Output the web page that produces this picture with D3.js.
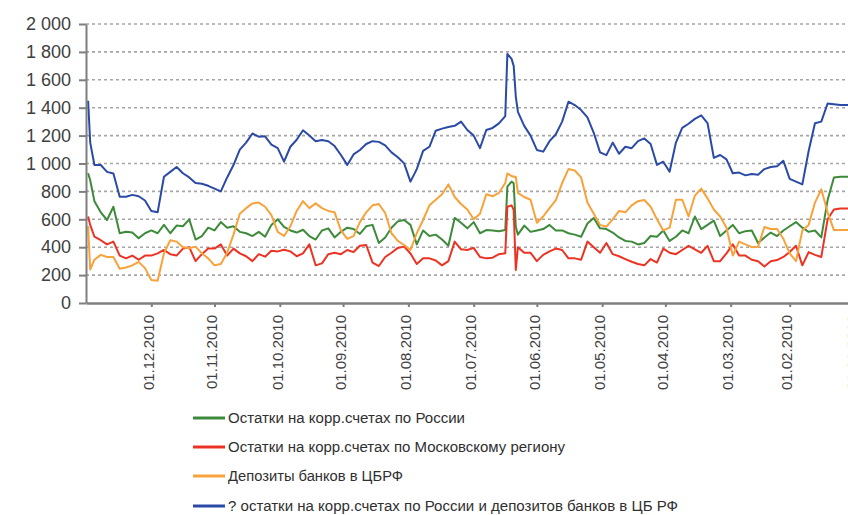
<!DOCTYPE html>
<html>
<head>
<meta charset="utf-8">
<script src="https://cdn.jsdelivr.net/npm/d3@7"></script>
<style>
  body { margin: 0; background: #fff; }
  svg { display: block; }
</style>
</head>
<body>
<script>
//Width and height
var w = 848;
var h = 515;

// dates of the samples (right to left on the chart: dec 2010 -> jan 2010)
var dates = [
	"31.12.2010", "30.12.2010", "28.12.2010", "25.12.2010", "22.12.2010", "19.12.2010", "16.12.2010", "13.12.2010", "10.12.2010", "07.12.2010", "04.12.2010", "01.12.2010",
	"28.11.2010", "25.11.2010", "22.11.2010", "19.11.2010", "16.11.2010", "13.11.2010", "10.11.2010", "07.11.2010", "04.11.2010", "01.11.2010",
	"29.10.2010", "26.10.2010", "23.10.2010", "20.10.2010", "17.10.2010", "14.10.2010", "11.10.2010", "08.10.2010", "05.10.2010", "02.10.2010",
	"29.09.2010", "26.09.2010", "23.09.2010", "20.09.2010", "17.09.2010", "14.09.2010", "11.09.2010", "08.09.2010", "05.09.2010", "02.09.2010",
	"30.08.2010", "27.08.2010", "24.08.2010", "21.08.2010", "18.08.2010", "15.08.2010", "12.08.2010", "09.08.2010", "06.08.2010", "03.08.2010",
	"31.07.2010", "28.07.2010", "25.07.2010", "22.07.2010", "19.07.2010", "16.07.2010", "13.07.2010", "10.07.2010", "07.07.2010", "04.07.2010", "01.07.2010",
	"28.06.2010", "25.06.2010", "22.06.2010", "19.06.2010", "16.06.2010", "15.06.2010", "13.06.2010", "12.06.2010", "11.06.2010", "10.06.2010", "07.06.2010", "04.06.2010", "01.06.2010",
	"29.05.2010", "26.05.2010", "23.05.2010", "20.05.2010", "17.05.2010", "14.05.2010", "11.05.2010", "08.05.2010", "05.05.2010", "02.05.2010",
	"29.04.2010", "26.04.2010", "23.04.2010", "20.04.2010", "17.04.2010", "14.04.2010", "11.04.2010", "08.04.2010", "05.04.2010", "02.04.2010",
	"30.03.2010", "27.03.2010", "24.03.2010", "21.03.2010", "18.03.2010", "15.03.2010", "12.03.2010", "09.03.2010", "06.03.2010", "03.03.2010",
	"28.02.2010", "25.02.2010", "22.02.2010", "19.02.2010", "16.02.2010", "13.02.2010", "10.02.2010", "07.02.2010", "04.02.2010", "01.02.2010",
	"29.01.2010", "26.01.2010", "23.01.2010", "20.01.2010", "17.01.2010", "14.01.2010", "11.01.2010", "08.01.2010", "05.01.2010", "02.01.2010"
];

// Остатки на корр.счетах по России
var russia = [
	930, 880, 730, 650, 595, 690, 500, 511, 505, 465, 500, 520,
	500, 560, 500, 555, 550, 600, 455, 480, 540, 520,
	580, 540, 550, 510, 500, 480, 510, 475, 560, 600,
	545, 520, 505, 525, 480, 455, 520, 535, 470, 510,
	540, 530, 495, 550, 560, 430, 470, 540, 585, 595,
	560, 420, 520, 480, 490, 455, 410, 610, 575, 535, 580,
	500, 523, 520, 515, 523, 834, 870, 858, 547, 490, 555, 510, 520,
	530, 560, 520, 520, 500, 490, 475, 570, 610, 535,
	530, 505, 470, 445, 440, 420, 430, 480, 475, 520,
	445, 475, 520, 500, 620, 530, 560, 590, 480, 520,
	560, 500, 515, 520, 430, 470, 505, 480, 520, 550,
	580, 540, 510, 520, 470, 738, 900, 905, 905, 905
];

// Остатки на корр.счетах по Московскому региону
var moscow = [
	620, 560, 475, 450, 420, 440, 340, 320, 340, 310, 340, 340,
	356, 380, 350, 340, 390, 400, 300, 350, 390, 390,
	420, 340, 390, 356, 335, 300, 350, 332, 375, 370,
	382, 370, 335, 356, 420, 270, 284, 350, 360, 350,
	380, 365, 410, 416, 290, 265, 330, 360, 395, 404,
	355, 280, 320, 320, 305, 270, 300, 440, 385, 380, 395,
	330, 320, 325, 350, 356, 690, 700, 667, 237, 400, 360, 360, 300,
	345, 370, 390, 380, 320, 320, 310, 440, 400, 360,
	430, 350, 335, 315, 296, 280, 270, 315, 290, 390,
	360, 350, 380, 410, 385, 360, 410, 300, 300, 356,
	420, 340, 340, 310, 300, 262, 300, 308, 330, 365,
	410, 270, 365, 345, 330, 600, 670, 678, 678, 678
];

// Депозиты банков в ЦБРФ
var deposits = [
	550, 240, 310, 345, 330, 330, 245, 255, 270, 295, 250, 165,
	160, 356, 450, 440, 400, 392, 404, 356, 320, 270,
	280, 360, 490, 640, 680, 714, 720, 690, 630, 510,
	480, 550, 660, 730, 680, 714, 680, 660, 650, 520,
	460, 480, 580, 650, 700, 710, 645, 500, 445, 416,
	380, 500, 595, 700, 740, 780, 850, 760, 710, 670, 600,
	640, 780, 765, 790, 860, 929, 910, 905, 905, 790, 760, 740, 575,
	620, 680, 738, 860, 960, 950, 900, 720, 640, 560,
	547, 600, 660, 650, 700, 730, 738, 690, 600, 520,
	540, 740, 740, 620, 770, 820, 750, 670, 620, 540,
	340, 440, 420, 400, 404, 545, 530, 530, 460, 356,
	300, 520, 560, 720, 815, 650, 523, 523, 523, 523
];

// ? остатки на корр.счетах по России и депозитов банков в ЦБ РФ
var total = [
	1450, 1150, 989, 989, 940, 929, 762, 762, 775, 765, 735, 660,
	650, 905, 940, 975, 930, 900, 860, 855, 840, 820,
	800, 900, 989, 1100, 1150, 1215, 1192, 1195, 1135, 1110,
	1013, 1120, 1170, 1238, 1200, 1160, 1168, 1160, 1125, 1061,
	990, 1065, 1097, 1140, 1160, 1155, 1130, 1080, 1045, 1001,
	870, 960, 1090, 1120, 1235, 1250, 1262, 1270, 1300, 1240, 1200,
	1110, 1240, 1255, 1288, 1340, 1785, 1750, 1700, 1480, 1370, 1270, 1200, 1097,
	1085, 1160, 1210, 1300, 1443, 1419, 1383, 1330, 1220, 1080,
	1060, 1150, 1070, 1120, 1110, 1160, 1180, 1140, 990, 1013,
	941, 1150, 1255, 1285, 1320, 1345, 1290, 1040, 1061, 1030,
	930, 935, 915, 925, 920, 960, 975, 980, 1020, 890,
	870, 850, 1090, 1288, 1300, 1430, 1425, 1419, 1419, 1419
];

var seriesNames = [
	"Остатки на корр.счетах по России",
	"Остатки на корр.счетах по Московскому региону",
	"Депозиты банков  в ЦБРФ",
	"? остатки на корр.счетах по России и депозитов банков  в ЦБ РФ"
];
var seriesColors = ["#3d8b3a", "#ec3323", "#f8a23c", "#2b4aa6"];

var xTickLabels = ["01.12.2010", "01.11.2010", "01.10.2010", "01.09.2010", "01.08.2010", "01.07.2010",
	"01.06.2010", "01.05.2010", "01.04.2010", "01.03.2010", "01.02.2010", "01.01.2010"];
var yTicks = [0, 200, 400, 600, 800, 1000, 1200, 1400, 1600, 1800, 2000];

var parseDate = d3.timeParse("%d.%m.%Y");
var fmtDate = d3.timeFormat("%d.%m.%Y");
var ru = d3.formatLocale({decimal: ",", thousands: " ", grouping: [3], currency: ["", ""]});

//Create SVG element
var svg = d3.select("body")
		.append("svg")
		.attr("width", w)
		.attr("height", h);

// time runs right to left
var x = d3.scaleTime()
		.domain([parseDate("01.01.2011"), parseDate("01.01.2010")])
		.range([86, 855]);

var y = d3.scaleLinear()
		.domain([0, 2000])
		.range([303, 24]);

// dotted grid
svg.append("g")
		.selectAll("line")
		.data(yTicks.filter(function(d) { return d > 0; }))
		.enter()
		.append("line")
		.attr("x1", 86)
		.attr("x2", w)
		.attr("y1", function(d) { return y(d); })
		.attr("y2", function(d) { return y(d); })
		.attr("stroke", "#a6a6a6")
		.attr("stroke-width", 1.6)
		.attr("stroke-dasharray", "3,3");

var chart = function() {
	var series = [russia, moscow, deposits, total];
	var line = d3.line()
			.x(function(d) { return x(d.date); })
			.y(function(d) { return y(d.value); });

	series.forEach(function(vals, i) {
		var pts = dates.map(function(s, j) {
			return {date: parseDate(s), value: vals[j]};
		}).filter(function(d) { return d.value != null; });

		svg.append("path")
				.datum(pts)
				.attr("d", line)
				.attr("fill", "none")
				.attr("stroke", seriesColors[i])
				.attr("stroke-width", 2)
				.attr("stroke-linejoin", "round");
	});
	return "Chart was created";
};

chart();

// y axis
var yAxis = svg.append("g")
		.attr("transform", "translate(86,0)")
		.call(d3.axisLeft(y)
				.tickValues(yTicks)
				.tickFormat(function(d) { return ru.format(",")(d); })
				.tickSize(7)
				.tickSizeOuter(0)
				.tickPadding(8));

yAxis.select(".domain").attr("stroke", "#7f7f7f").attr("stroke-width", 2);
yAxis.selectAll(".tick line").attr("stroke", "#7f7f7f").attr("stroke-width", 2);
yAxis.selectAll(".tick text")
		.attr("font-family", "Liberation Sans, Arial, sans-serif")
		.attr("font-size", "18px")
		.attr("fill", "#404040");

// x axis
var xAxis = svg.append("g")
		.attr("transform", "translate(0,303)")
		.call(d3.axisBottom(x)
				.tickValues(xTickLabels.map(parseDate))
				.tickFormat(fmtDate)
				.tickSize(4)
				.tickSizeOuter(0));

xAxis.select(".domain").attr("stroke", "#7f7f7f").attr("stroke-width", 2.5);
xAxis.selectAll(".tick line").attr("stroke", "#7f7f7f").attr("stroke-width", 2);
xAxis.selectAll(".tick text")
		.attr("font-family", "Liberation Sans, Arial, sans-serif")
		.attr("font-size", "15px")
		.attr("fill", "#404040")
		.attr("text-anchor", "end")
		.attr("transform", "rotate(-90)")
		.attr("x", -12)
		.attr("y", -3)
		.attr("dy", "0.35em");

// legend
var legendWidths = [237, 337, 175, 450];
var legend = svg.append("g")
		.selectAll("g")
		.data(seriesNames)
		.enter()
		.append("g")
		.attr("transform", function(d, i) { return "translate(193," + [418, 447, 476, 506][i] + ")"; });

legend.append("line")
		.attr("x1", 0)
		.attr("x2", 32)
		.attr("stroke", function(d, i) { return seriesColors[i]; })
		.attr("stroke-width", 3);

legend.append("text")
		.attr("x", 35)
		.attr("dy", "0.35em")
		.attr("font-family", "Liberation Sans, Arial, sans-serif")
		.attr("font-size", "14px")
		.attr("fill", "#303030")
		.attr("textLength", function(d, i) { return legendWidths[i]; })
		.attr("lengthAdjust", "spacingAndGlyphs")
		.text(function(d) { return d; });
</script>
</body>
</html>
